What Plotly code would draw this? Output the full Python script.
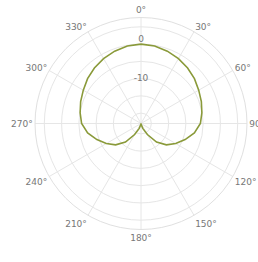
import plotly.graph_objects as go

# Polar pattern (dB)
angles_deg = [0, 10, 20, 30, 40, 50, 60, 70, 80, 90, 100, 110, 120, 130, 140, 150, 160, 170, 180,
              190, 200, 210, 220, 230, 240, 250, 260, 270, 280, 290, 300, 310, 320, 330, 340, 350, 360]
level_db = [0.0, -0.2, -0.7, -1.3, -2.0, -2.8, -3.7, -4.4, -5.1, -5.8, -7.3, -9.4, -11.4, -13.4, -16.0,
            -19.3, -21.5, -22.7, -23.0, -22.7, -21.5, -19.3, -16.0, -13.4, -11.4, -9.4, -7.3, -5.8,
            -5.1, -4.4, -3.7, -2.8, -2.0, -1.3, -0.7, -0.2, 0.0]

radial_tick_vals = [0, -10]
radial_tick_text = ["0", "-10"]
radial_label_pos = ["top center", "middle center"]
radial_range = [-23, 7.7]

fig = go.Figure()
fig.add_trace(go.Scatterpolar(
    r=level_db, theta=angles_deg, mode="lines",
    line=dict(color="#8a9a3a", width=1.6), showlegend=False, hoverinfo="skip"))
fig.add_trace(go.Scatterpolar(
    r=radial_tick_vals, theta=[0] * len(radial_tick_vals), mode="text",
    text=radial_tick_text, textposition=radial_label_pos,
    textfont=dict(size=9, color="#777777", family="DejaVu Sans"),
    showlegend=False, hoverinfo="skip"))

fig.update_layout(
    width=258, height=262,
    margin=dict(l=34.5, r=10.5, t=17, b=32),
    paper_bgcolor="white",
    font=dict(family="DejaVu Sans", size=9, color="#777777"),
    polar=dict(
        bgcolor="white",
        radialaxis=dict(range=radial_range, dtick=5, tick0=0, showticklabels=False, ticks="",
                        showline=False, gridcolor="#e6e6e6", gridwidth=1),
        angularaxis=dict(rotation=90, direction="clockwise", dtick=30, ticks="",
                         showline=True, linecolor="#e0e0e0", gridcolor="#e6e6e6",
                         tickfont=dict(size=9, color="#777777")),
    ),
)
fig.write_html("out.html", config={"displayModeBar": False},
               post_script="document.body.style.margin='0';")
